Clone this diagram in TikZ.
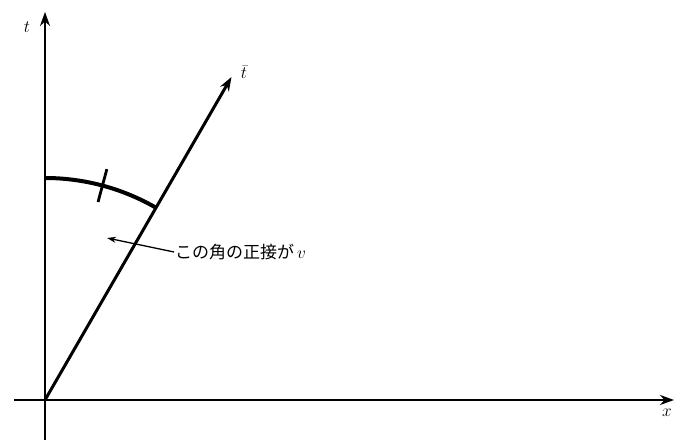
\documentclass[tikz,border=0pt]{standalone}
\usepackage{fontspec}
\newfontfamily\cjk{Noto Sans CJK JP}
\usetikzlibrary{arrows.meta,calc}
\tikzset{
  axis/.style={line width=2.6pt,-{Stealth[length=14pt,width=10pt]}},
  plain/.style={line width=2.6pt},
  lbl/.style={font=\fontsize{18}{20}\selectfont,inner sep=1pt},
  arcstyle/.style={line width=4pt},
  tickstyle/.style={line width=2.8pt},
  pointer/.style={line width=1.3pt,-{Stealth[length=9pt,width=6pt]}}
}
\begin{document}
\begin{tikzpicture}[x=1pt,y=1pt]
\useasboundingbox (0,0) rectangle (675,441);
\fill[white] (0,0) rectangle (675,441);
\coordinate (O) at (45,41);
\coordinate (tbot) at (45,1);
\coordinate (ttop) at (45,429);
\coordinate (xl) at (14,41);
\coordinate (xr) at (674,41);
\coordinate (tbar) at ($(O)+(60:373pt)$);
\coordinate (arcs) at ($(O)+(90:222pt)$);
\coordinate (tick1) at ($(O)+(75:205pt)$);
\coordinate (tick2) at ($(O)+(75:239pt)$);
\coordinate (ptip) at (107,203);
% axes
\draw[plain] (tbot) -- (O);
\draw[axis] (O) -- (ttop);
\draw[plain] (xl) -- (O);
\draw[axis] (O) -- (xr);
\draw[line width=3pt,-{Stealth[length=14pt,width=10pt]}] (O) -- (tbar);
% arc and tick
\draw[arcstyle] (arcs) arc[start angle=90,end angle=60,radius=222pt];
\draw[tickstyle] (tick1) -- (tick2);
% labels
\node[lbl] (tlab) at (27,414) {$t$};
\node[lbl] (tbarlab) at (244,369) {$\bar t$};
\node[lbl] (xlab) at (667,28) {$x$};
\node[font=\fontsize{17}{19}\selectfont,inner sep=1pt,anchor=west] (note) at (174,189) {\cjk この角の正接が\,$v$};
\draw[pointer] (note.west) -- (ptip);
\end{tikzpicture}
\end{document}
